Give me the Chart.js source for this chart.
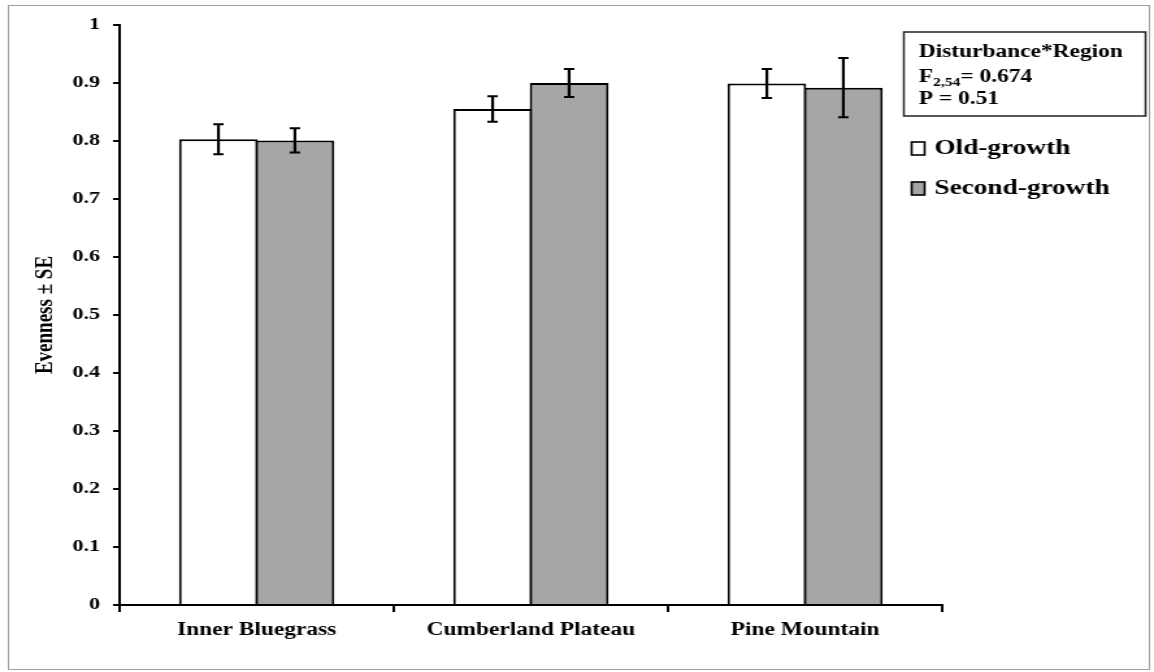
<!DOCTYPE html>
<html>
<head>
<meta charset="utf-8">
<script src="https://cdn.jsdelivr.net/npm/chart.js@4"></script>
<style>
  body { margin: 0; background: #fff; }
  #chart { display: block; width: 1154px !important; height: 672px !important; }
</style>
</head>
<body>
<canvas id="chart" width="888" height="672" style="width:1154px;height:672px;"></canvas>
<script>
const categories = ['Inner Bluegrass', 'Cumberland Plateau', 'Pine Mountain'];
const oldGrowth = [0.803, 0.855, 0.899];
const oldGrowthSE = [0.026, 0.022, 0.025];
const secondGrowth = [0.801, 0.900, 0.892];
const secondGrowthSE = [0.021, 0.024, 0.051];

const serif = 'Liberation Serif, Times New Roman, serif';

// frame + white background
const frame = {
  id: 'frame',
  beforeDraw(chart) {
    const ctx = chart.ctx;
    ctx.save();
    ctx.fillStyle = '#fff';
    ctx.fillRect(0, 0, chart.width, chart.height);
    ctx.strokeStyle = '#a0a0a0';
    ctx.lineWidth = 1;
    ctx.strokeRect(6.5, 5.5, 878, 664);
    ctx.restore();
  }
};

// +/- SE whiskers
const errorBars = {
  id: 'errorBars',
  afterDatasetsDraw(chart) {
    const ctx = chart.ctx, y = chart.scales.y;
    chart.data.datasets.forEach((ds, i) => {
      chart.getDatasetMeta(i).data.forEach((bar, j) => {
        const top = y.getPixelForValue(ds.data[j] + ds.se[j]);
        const bot = y.getPixelForValue(ds.data[j] - ds.se[j]);
        ctx.save();
        ctx.strokeStyle = '#000';
        ctx.lineWidth = 2.2;
        ctx.beginPath();
        ctx.moveTo(bar.x, top);
        ctx.lineTo(bar.x, bot);
        ctx.stroke();
        ctx.lineWidth = 2;
        ctx.beginPath();
        ctx.moveTo(bar.x - 4, top); ctx.lineTo(bar.x + 4, top);
        ctx.moveTo(bar.x - 4, bot); ctx.lineTo(bar.x + 4, bot);
        ctx.stroke();
        ctx.restore();
      });
    });
  }
};

// stats box and legend on the right
const sideNotes = {
  id: 'sideNotes',
  afterDraw(chart) {
    const ctx = chart.ctx;
    ctx.save();
    ctx.strokeStyle = '#222';
    ctx.lineWidth = 1.5;
    ctx.strokeRect(695.5, 32, 186, 84);

    ctx.fillStyle = '#000';
    ctx.textBaseline = 'alphabetic';
    ctx.textAlign = 'left';
    ctx.font = 'bold 18px ' + serif;
    ctx.fillText('Disturbance*Region', 707, 57);

    let x = 707;
    ctx.fillText('F', x, 82);
    x += ctx.measureText('F').width;
    ctx.font = 'bold 12px ' + serif;
    ctx.fillText('2,54', x, 86);
    x += ctx.measureText('2,54').width;
    ctx.font = 'bold 18px ' + serif;
    ctx.fillText('= 0.674', x, 82);
    ctx.fillText('P = 0.51', 707, 104);

    ctx.font = 'bold 21px ' + serif;
    chart.data.datasets.forEach((ds, i) => {
      const y0 = 142 + i * 40;
      ctx.fillStyle = ds.backgroundColor;
      ctx.fillRect(701.5, y0, 10, 13);
      ctx.strokeStyle = '#000';
      ctx.lineWidth = 1.6;
      ctx.strokeRect(701.5, y0, 10, 13);
      ctx.fillStyle = '#000';
      ctx.fillText(ds.label, 719, 154 + i * 40);
    });
    ctx.restore();
  }
};

new Chart(document.getElementById('chart'), {
  type: 'bar',
  data: {
    labels: categories,
    datasets: [
      {
        label: 'Old-growth',
        data: oldGrowth,
        se: oldGrowthSE,
        backgroundColor: '#ffffff',
        borderColor: '#000',
        borderWidth: 2,
        categoryPercentage: 0.558,
        barPercentage: 1.03
      },
      {
        label: 'Second-growth',
        data: secondGrowth,
        se: secondGrowthSE,
        backgroundColor: '#a6a6a6',
        borderColor: '#000',
        borderWidth: 2,
        categoryPercentage: 0.558,
        barPercentage: 1.03
      }
    ]
  },
  options: {
    responsive: false,
    animation: false,
    devicePixelRatio: 1,
    layout: { padding: { left: 20, top: 25, right: 163, bottom: 0 } },
    plugins: {
      legend: { display: false },
      tooltip: { enabled: false }
    },
    scales: {
      x: {
        grid: { drawOnChartArea: false, tickLength: 7, color: '#000', lineWidth: 2, offset: true },
        border: { color: '#000', width: 2 },
        ticks: { color: '#000', padding: 8, font: { family: serif, size: 18, weight: 'bold' } },
        afterFit: s => { s.height = 67; }
      },
      y: {
        min: 0,
        max: 1,
        grid: { drawOnChartArea: false, tickLength: 5, color: '#000', lineWidth: 2 },
        border: { color: '#000', width: 2 },
        ticks: {
          stepSize: 0.1,
          color: '#000',
          padding: 10,
          font: { family: serif, size: 17, weight: 'bold' },
          callback: v => String(Math.round(v * 10) / 10)
        },
        title: {
          display: true,
          text: 'Evenness ± SE',
          color: '#000',
          padding: 4,
          font: { family: serif, size: 19, weight: 'bold' }
        },
        afterFit: s => { s.width = 72; }
      }
    }
  },
  plugins: [frame, errorBars, sideNotes]
});
</script>
</body>
</html>
